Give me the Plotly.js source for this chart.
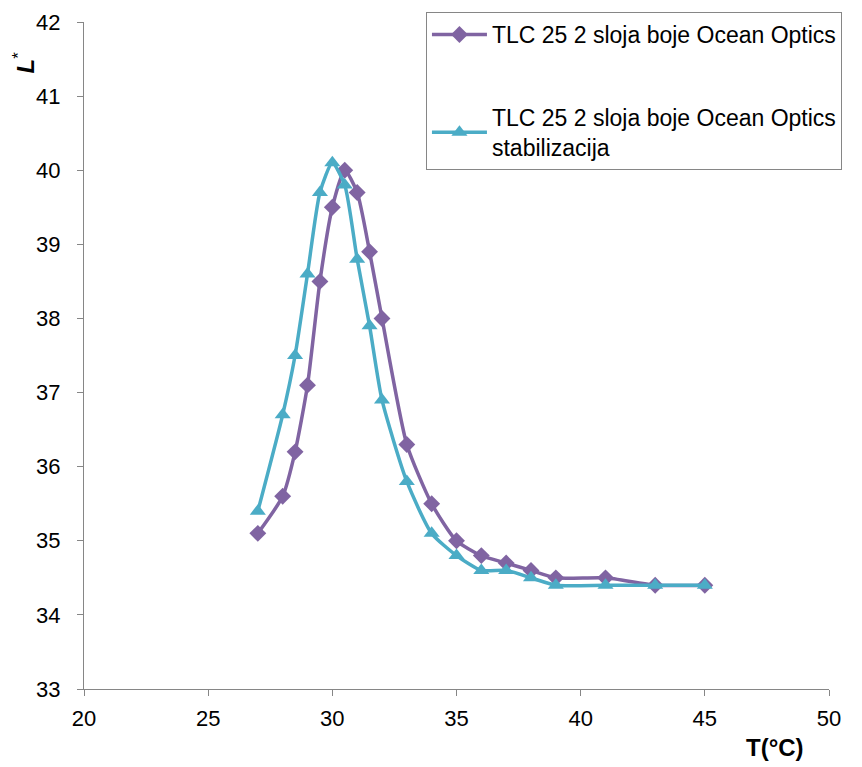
<!DOCTYPE html>
<html>
<head>
<meta charset="utf-8">
<script src="https://cdn.plot.ly/plotly-3.0.1.min.js"></script>
<style>html,body{margin:0;padding:0;background:#fff}#chart{width:862px;height:767px}</style>
</head>
<body>
<div id="chart"></div>
<script>
const tempA = [27,28,28.5,29,29.5,30,30.5,31,31.5,32,33,34,35,36,37,38,39,41,43,45];
const lA = [35.1,35.6,36.2,37.1,38.5,39.5,40.0,39.7,38.9,38.0,36.3,35.5,35.0,34.8,34.7,34.6,34.5,34.5,34.4,34.4];
const tempB = [27,28,28.5,29,29.5,30,30.5,31,31.5,32,33,34,35,36,37,38,39,41,43,45];
const lB = [35.4,36.7,37.5,38.6,39.7,40.1,39.8,38.8,37.9,36.9,35.8,35.1,34.8,34.6,34.6,34.5,34.4,34.4,34.4,34.4];
const nameA = "TLC 25 2 sloja boje Ocean Optics";
const nameB = "TLC 25 2 sloja boje Ocean Optics<br>stabilizacija";
const xTicks = [20,25,30,35,40,45,50];
const yTicks = [33,34,35,36,37,38,39,40,41,42];

const traces = [
  {x: tempA, y: lA, name: nameA, type: 'scatter', mode: 'lines+markers',
   line: {color: '#8064A2', width: 3.5, shape: 'spline', smoothing: 0.6},
   marker: {symbol: 'diamond', size: 13, color: '#8064A2'}, legendgroup: 'a'},
  {x: tempB, y: lB, name: nameB, type: 'scatter', mode: 'lines+markers',
   line: {color: '#4BACC6', width: 3.5, shape: 'spline', smoothing: 0.6},
   marker: {symbol: 'triangle-up', size: 14, color: '#4BACC6'}, legendgroup: 'b'}
];

const layout = {
  width: 862, height: 767,
  margin: {l: 84, r: 33, t: 22, b: 78},
  paper_bgcolor: '#fff', plot_bgcolor: '#fff',
  font: {family: 'Liberation Sans, Arial, sans-serif', size: 22, color: '#000'},
  xaxis: {range: [20, 50], tickvals: xTicks, ticktext: xTicks.map(String),
    showgrid: false, zeroline: false, showline: true, linecolor: '#868686', linewidth: 1,
    ticks: 'outside', ticklen: 6, tickcolor: '#868686', tickfont: {size: 22}, ticklabelstandoff: 4},
  yaxis: {range: [33, 42], tickvals: yTicks, ticktext: yTicks.map(String),
    showgrid: false, zeroline: false, showline: true, linecolor: '#868686', linewidth: 1,
    ticks: 'outside', ticklen: 6, tickcolor: '#868686', tickfont: {size: 22}, ticklabelstandoff: 12},
  showlegend: true,
  legend: {x: 0.459, y: 1.015, xanchor: 'left', yanchor: 'top',
    bordercolor: '#868686', borderwidth: 1, bgcolor: '#fff',
    font: {size: 23}, traceorder: 'grouped', tracegroupgap: 50, itemwidth: 55},
  annotations: [
    {xref: 'paper', yref: 'paper', x: -0.08, y: 0.94, text: '<b><i>L</i></b><sup>*</sup>',
     textangle: -90, showarrow: false, font: {size: 24}, xanchor: 'center', yanchor: 'middle'},
    {xref: 'paper', yref: 'paper', x: 0.927, y: -0.088, text: '<b>T(°C)</b>',
     showarrow: false, font: {size: 24}, xanchor: 'center', yanchor: 'middle'}
  ]
};
Plotly.newPlot('chart', traces, layout, {displayModeBar: false, staticPlot: true});
</script>
</body>
</html>
